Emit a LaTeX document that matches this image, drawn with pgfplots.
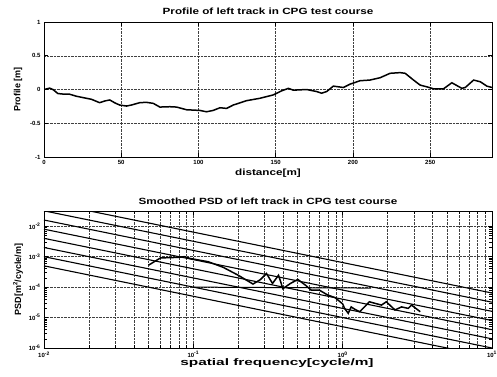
\documentclass[border=0pt]{standalone}
\usepackage{pgfplots}
\pgfplotsset{compat=1.18}
\usepackage{fontspec}
\setmainfont{Liberation Sans}
\begin{document}
\begin{tikzpicture}
\useasboundingbox (-44pt,-219pt) rectangle (453pt,157pt);
\pgfplotsset{
 every axis title shift=0pt,
 every axis/.append style={
  scale only axis, width=448pt,
  grid=major,
  major grid style={densely dotted, black!75, line width=0.5pt},
  minor grid style={densely dotted, black!75, line width=0.5pt},
  axis line style={line width=0.9pt},
  tick style={black, line width=0.6pt},
  tick align=inside,
  ticklabel style={font=\fontsize{6}{7}\selectfont\bfseries},
  /pgf/number format/assume math mode=true,
  ylabel style={anchor=center, inner sep=0pt, font=\fontsize{9}{10}\selectfont\bfseries},
  xlabel style={anchor=center, inner sep=0pt},
  }
}
\begin{axis}[at={(0pt,0pt)}, anchor=south west, height=135pt,
  xmin=0, xmax=290, ymin=-1, ymax=1,
  xtick={0,50,100,150,200,250}, ytick={-1,-0.5,0,0.5,1},
  yticklabels={-1,-0.5,0,0.5,1},
  title style={at={(axis description cs:0.5,1.076)}, anchor=center, inner sep=0pt, yshift=0pt},
  xlabel style={at={(axis description cs:0.5,-0.12)}},
  ylabel style={at={(axis description cs:-0.058,0.5)}},
  title={\scalebox{1.3}[1]{\fontsize{9}{10}\selectfont\bfseries Profile of left track in CPG test course}},
  xlabel={\scalebox{1.3}[1]{\fontsize{9}{10}\selectfont\bfseries distance[m]}},
  ylabel={Profile [m]},
]
\addplot[black, line width=1.5pt] coordinates {
(0,0.0) (3.7,0.02) (5.8,0.0) (9,-0.06) (13.4,-0.07) (16.6,-0.07) (21,-0.1)
(25.3,-0.12) (30.7,-0.145) (36,-0.195) (39.3,-0.17) (42.6,-0.155) (46,-0.2) (49,-0.23)
(53.4,-0.245) (56.6,-0.23) (62,-0.195) (66.3,-0.19) (70.7,-0.205) (75,-0.26)
(81.5,-0.255) (85.8,-0.26) (92.3,-0.30) (100.9,-0.31) (105.2,-0.33) (109.5,-0.31)
(113.9,-0.27) (118.2,-0.28) (122.5,-0.23) (131.2,-0.165) (139.8,-0.13) (148.4,-0.08)
(153.8,-0.02) (158.2,0.017) (161.4,-0.01) (170,0.0) (176.5,-0.03) (179.7,-0.055)
(183,-0.03) (187.3,0.05) (193.8,0.03) (198.2,0.08) (204.6,0.13) (211,0.14)
(217.6,0.175) (224,0.24) (230.5,0.25) (233.8,0.24) (239.2,0.14) (243.5,0.065)
(247.8,0.04) (252.2,0.01) (258.6,0.01) (264,0.1) (270.5,0.017) (272.7,0.03)
(278.1,0.14) (282.4,0.115) (286.7,0.05) (290,0.03)
};
\end{axis}
\begin{axis}[at={(0pt,-191pt)}, anchor=south west, height=137pt,
  xmode=log, ymode=log,
  xmin=0.01, xmax=10, ymin=1e-6, ymax=0.0316,
  xtick={0.01,0.1,1,10},
  xticklabels={10\textsuperscript{-2},10\textsuperscript{-1},10\textsuperscript{0},10\textsuperscript{1}},
  ytick={1e-6,1e-5,1e-4,1e-3,1e-2},
  yticklabels={10\textsuperscript{-6},10\textsuperscript{-5},10\textsuperscript{-4},10\textsuperscript{-3},10\textsuperscript{-2}},
  xminorgrids=true,
  title style={at={(axis description cs:0.5,1.068)}, anchor=center, inner sep=0pt, yshift=0pt},
  xlabel style={at={(axis description cs:0.52,-0.112)}},
  ylabel style={at={(axis description cs:-0.058,0.5)}},
  title={\scalebox{1.3}[1]{\fontsize{9}{10}\selectfont\bfseries Smoothed PSD of left track in CPG test course}},
  xlabel={\scalebox{1.62}[1]{\fontsize{9.5}{11}\selectfont\bfseries spatial frequency[cycle/m]}},
  ylabel={PSD[m\textsuperscript{2}/cycle/m]},
  clip=true,
]
\addplot[black, line width=1.1pt] coordinates {(0.01,6.4e-2) (10,6.4e-5)};
\addplot[black, line width=1.1pt] coordinates {(0.01,3.2e-2) (10,3.2e-5)};
\addplot[black, line width=1.1pt] coordinates {(0.01,1.6e-2) (10,1.6e-5)};
\addplot[black, line width=1.1pt] coordinates {(0.01,8e-3) (10,8e-6)};
\addplot[black, line width=1.1pt] coordinates {(0.01,4e-3) (10,4e-6)};
\addplot[black, line width=1.1pt] coordinates {(0.01,2e-3) (10,2e-6)};
\addplot[black, line width=1.1pt] coordinates {(0.01,1e-3) (10,1e-6)};
\addplot[black, line width=1.1pt] coordinates {(0.01,5e-4) (10,5e-7)};
\addplot[black, line width=1pt] coordinates {(0.1,1e-4) (1.55,0.93e-4)};
\addplot[black, line width=1.5pt] coordinates {
(0.0501,5.25e-4) (0.0603,9.1e-4) (0.0794,9.5e-4) (0.0871,1.0e-3) (0.0955,8.7e-4)
(0.126,6.8e-4) (0.158,4.5e-4) (0.200,2.45e-4) (0.251,1.26e-4) (0.282,1.78e-4)
(0.309,2.8e-4) (0.339,1.32e-4) (0.372,2.45e-4) (0.398,8.9e-5) (0.447,1.32e-4)
(0.501,1.78e-4) (0.562,1.17e-4) (0.617,7.9e-5) (0.700,7.9e-5) (0.794,5.5e-5)
(0.891,4.5e-5) (1.0,2.8e-5) (1.03,2.0e-5) (1.09,1.38e-5) (1.14,2.24e-5)
(1.20,1.9e-5) (1.30,1.55e-5) (1.40,2.24e-5) (1.51,3.3e-5) (1.64,2.95e-5)
(1.82,2.57e-5) (1.96,3.3e-5) (2.24,1.78e-5) (2.48,2.24e-5) (2.75,2.0e-5)
(2.89,2.57e-5) (3.31,1.55e-5)
};
\end{axis}
\end{tikzpicture}
\end{document}
